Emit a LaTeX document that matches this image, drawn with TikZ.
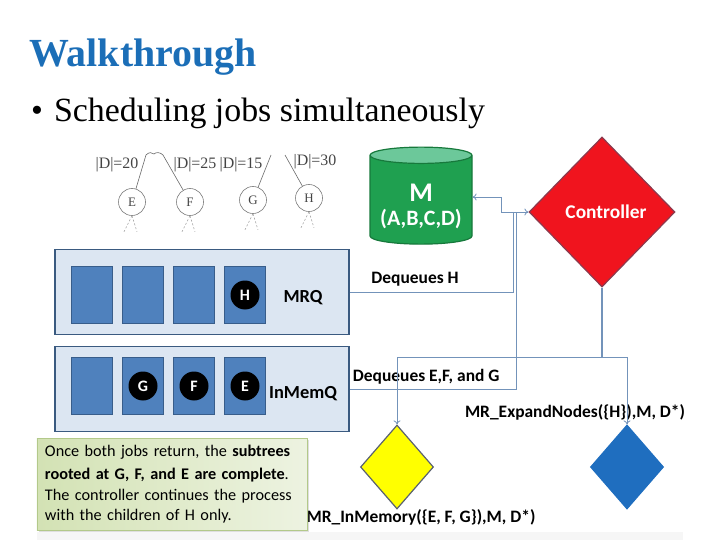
\documentclass[tikz,border=0pt]{standalone}
\usepackage{fontspec}
\setmainfont{Carlito}
\newfontfamily\slidefont{Liberation Serif}
\usepackage{xcolor}
\usepackage{tikz}
\usetikzlibrary{
  arrows.meta,
  positioning,
  shapes.geometric,
  shadows
}
\definecolor{TitleBlue}{HTML}{1B6EB7}
\definecolor{QueueFill}{HTML}{DCE6F2}
\definecolor{QueueDraw}{HTML}{3A5A80}
\definecolor{SlotBlue}{HTML}{4F81BD}
\definecolor{SlotDraw}{HTML}{385D8A}
\definecolor{DiskGreen}{HTML}{1FA050}
\definecolor{DiskTop}{HTML}{6CC89A}
\definecolor{DiskDraw}{HTML}{17793C}
\definecolor{CtrlRed}{HTML}{F0141E}
\definecolor{CtrlDraw}{HTML}{8C3A4E}
\definecolor{JobYellow}{HTML}{FFFF00}
\definecolor{JobBlue}{HTML}{1F6EBF}
\definecolor{JobDraw}{HTML}{5A6170}
\definecolor{NoteDark}{HTML}{D3E2B4}
\definecolor{NoteLight}{HTML}{EDF3E1}
\definecolor{NoteDraw}{HTML}{B3C98A}
\definecolor{WireBlue}{HTML}{7393BA}
\definecolor{TreeGray}{HTML}{444444}
\tikzset{
  queue/.style={
    draw=QueueDraw,
    line width=1.5bp,
    fill=QueueFill,
    minimum width=294bp,
    minimum height=85bp
  },
  slot/.style={
    draw=SlotDraw,
    line width=1bp,
    fill=SlotBlue,
    minimum width=41bp,
    minimum height=57bp,
    inner sep=0pt
  },
  jobdot/.style={
    circle,
    fill=black,
    text=white,
    font=\bfseries\fontsize{16}{16}\selectfont,
    minimum size=29bp,
    inner sep=0pt
  },
  queuename/.style={
    font=\bfseries\fontsize{18.5}{18.5}\selectfont,
    inner sep=0pt
  },
  treenode/.style={
    circle,
    draw=TreeGray!70,
    line width=0.6bp,
    text=TreeGray,
    font=\slidefont\fontsize{13}{13}\selectfont,
    minimum size=27bp,
    inner sep=0pt
  },
  treelabel/.style={
    text=TreeGray,
    font=\slidefont\fontsize{16}{16}\selectfont,
    inner sep=0pt
  },
  treeedge/.style={
    draw=TreeGray!80,
    line width=0.6bp
  },
  childedge/.style={
    draw=TreeGray!50,
    line width=0.6bp,
    dash pattern=on 2bp off 2bp
  },
  datastore/.style={
    cylinder,
    shape border rotate=90,
    aspect=0.2,
    draw=DiskDraw,
    line width=1.2bp,
    cylinder uses custom fill,
    cylinder body fill=DiskGreen,
    cylinder end fill=DiskTop,
    minimum width=102bp,
    minimum height=97bp,
    inner sep=0pt,
    text=white,
    font=\bfseries\fontsize{22}{22}\selectfont
  },
  jobbox/.style={
    diamond,
    draw=JobDraw,
    line width=1.2bp,
    minimum width=73bp,
    minimum height=84bp,
    inner sep=0pt
  },
  note/.style={
    draw=NoteDraw,
    line width=0.8bp,
    left color=NoteDark,
    right color=NoteLight,
    drop shadow={shadow xshift=2bp, shadow yshift=-2bp, opacity=0.25},
    text width=254bp,
    inner xsep=8bp,
    minimum height=92bp,
    align=left,
    font=\fontsize{16.3}{20.5}\selectfont
  },
  wire/.style={
    draw=WireBlue,
    line width=0.8bp
  },
  jobcall/.style={
    wire,
    -{To[length=4bp,width=7bp]}
  },
  duplex/.style={
    wire,
    {To[length=4bp,width=7bp]}-{To[length=4bp,width=7bp]}
  },
  wirelabel/.style={
    font=\bfseries\fontsize{17.5}{17.5}\selectfont,
    inner sep=0pt
  }
}

\begin{document}
\begin{tikzpicture}[x=1bp, y=-1bp]
  \useasboundingbox (0,0) rectangle (720,540);

  \fill[gray!7] (37,532) rectangle (683,540);

  % slide heading
  \node[
    anchor=base west,
    text=TitleBlue,
    font=\slidefont\bfseries\fontsize{40}{40}\selectfont,
    inner sep=0pt
  ] (title) at (29,67) {Walkthrough};

  \node[
    anchor=base west,
    font=\slidefont\fontsize{34}{34}\selectfont,
    inner sep=0pt
  ] (bullet) at (31,122) {\textbullet\hspace{11bp}Scheduling jobs simultaneously};

  % search tree fragment
  \node[treenode] (treeE) at (132,202) {E};
  \node[treenode] (treeF) at (190,202) {F};
  \node[treenode] (treeG) at (253,200) {G};
  \node[treenode] (treeH) at (309,198) {H};

  \node[treelabel] (sizeE) at (117,165) {|D|=20};
  \node[treelabel] (sizeF) at (195,165) {|D|=25};
  \node[treelabel] (sizeG) at (241,165) {|D|=15};
  \node[treelabel] (sizeH) at (315,162) {|D|=30};

  \coordinate (rootL) at (146,155);
  \coordinate (rootR) at (163,155);
  \coordinate (rootG) at (271,155);
  \coordinate (rootH) at (285,155);

  \draw[treeedge] (treeE) -- (rootL);
  \draw[treeedge] (rootL) .. controls (149,152) and (152,152) .. (154,154)
    .. controls (156,152) and (160,152) .. (rootR);
  \draw[treeedge] (rootR) -- (treeF);
  \draw[treeedge] (treeG) -- (rootG);
  \draw[treeedge] (rootH) -- (treeH);

  \draw[childedge] (treeE.south) -- ++(-8,16);
  \draw[childedge] (treeE.south) -- ++(5,16);
  \draw[childedge] (treeF.south) -- ++(-8,16);
  \draw[childedge] (treeF.south) -- ++(5,16);
  \draw[childedge] (treeG.south) -- ++(-8,16);
  \draw[childedge] (treeG.south) -- ++(5,16);
  \draw[childedge] (treeH.south) -- ++(-8,16);
  \draw[childedge] (treeH.south) -- ++(5,16);

  % queues
  \node[queue] (mrq) at (202,292) {};
  \node[slot] (mrqA) at (92,295) {};
  \node[slot, right=9bp of mrqA] (mrqB) {};
  \node[slot, right=9bp of mrqB] (mrqC) {};
  \node[slot, right=9bp of mrqC] (mrqD) {};
  \node[jobdot] (jobH) at (mrqD) {H};
  \node[queuename] (mrqName) at (303,298) {MRQ};

  \node[queue] (memq) at (202,389) {};
  \node[slot] (memA) at (92,386) {};
  \node[slot, right=9bp of memA] (memB) {};
  \node[slot, right=9bp of memB] (memC) {};
  \node[slot, right=9bp of memC] (memD) {};
  \node[jobdot] (jobG) at (memB) {G};
  \node[jobdot] (jobF) at (memC) {F};
  \node[jobdot] (jobE) at (memD) {E};
  \node[queuename] (memqName) at (303,394) {InMemQ};

  % data and controller
  \node[datastore] (disk) at (421,200) {%
    \raisebox{-8bp}[\height][\depth]{%
      \begin{tabular}{@{}c@{}}
        {\fontsize{27}{27}\selectfont M}\\[1bp]
        (A,B,C,D)
      \end{tabular}}};

  \node[
    diamond,
    fill=CtrlRed,
    draw=CtrlDraw,
    line width=1.2bp,
    minimum width=146bp,
    minimum height=150bp,
    inner sep=0pt,
    text=white,
    font=\bfseries\fontsize{19.5}{19.5}\selectfont
  ] (ctrl) at (602,212) {\hspace{8bp}Controller};

  % jobs
  \node[jobbox, fill=JobYellow] (memJob) at (397,467) {};
  \node[jobbox, fill=JobBlue, draw=JobBlue] (mrJob) at (627,467) {};

  \node[wirelabel] (expandCall) at (575,412) {MR\_ExpandNodes(\{H\}),M, D*)};
  \node[wirelabel] (memoryCall) at (421,517) {MR\_InMemory(\{E, F, G\}),M, D*)};

  \node[note] (summary) at (172,484) {%
    \vspace*{3bp}Once both jobs return, the \textbf{subtrees}\\
    \textbf{rooted at G, F, and E are complete}.\\
    The controller continues the process\\
    with the children of H only.};

  % connectors
  \coordinate (diskJoint) at (501,197);
  \coordinate (mrqJoint) at (513,213);
  \coordinate (memJoint) at (516,213);
  \coordinate (split) at (602,357);

  \draw[duplex] (disk.east |- diskJoint) -- (diskJoint) |- (ctrl.west);

  \draw[wire]
  (mrq.east) -|
  node[wirelabel, pos=0.2, above=5bp] (dequeueH) {Dequeues H}
  (mrqJoint);

  \draw[wire]
  (memq.east) -|
  node[wirelabel, pos=0.23, above=4bp] (dequeueEFG) {Dequeues E,F, and G}
  (memJoint);

  \draw[wire, line width=1.6bp] (ctrl.south) -- (split);
  \draw[jobcall] (split) -| (memJob.north);
  \draw[jobcall] (split) -| (mrJob.north);

\end{tikzpicture}
\end{document}
